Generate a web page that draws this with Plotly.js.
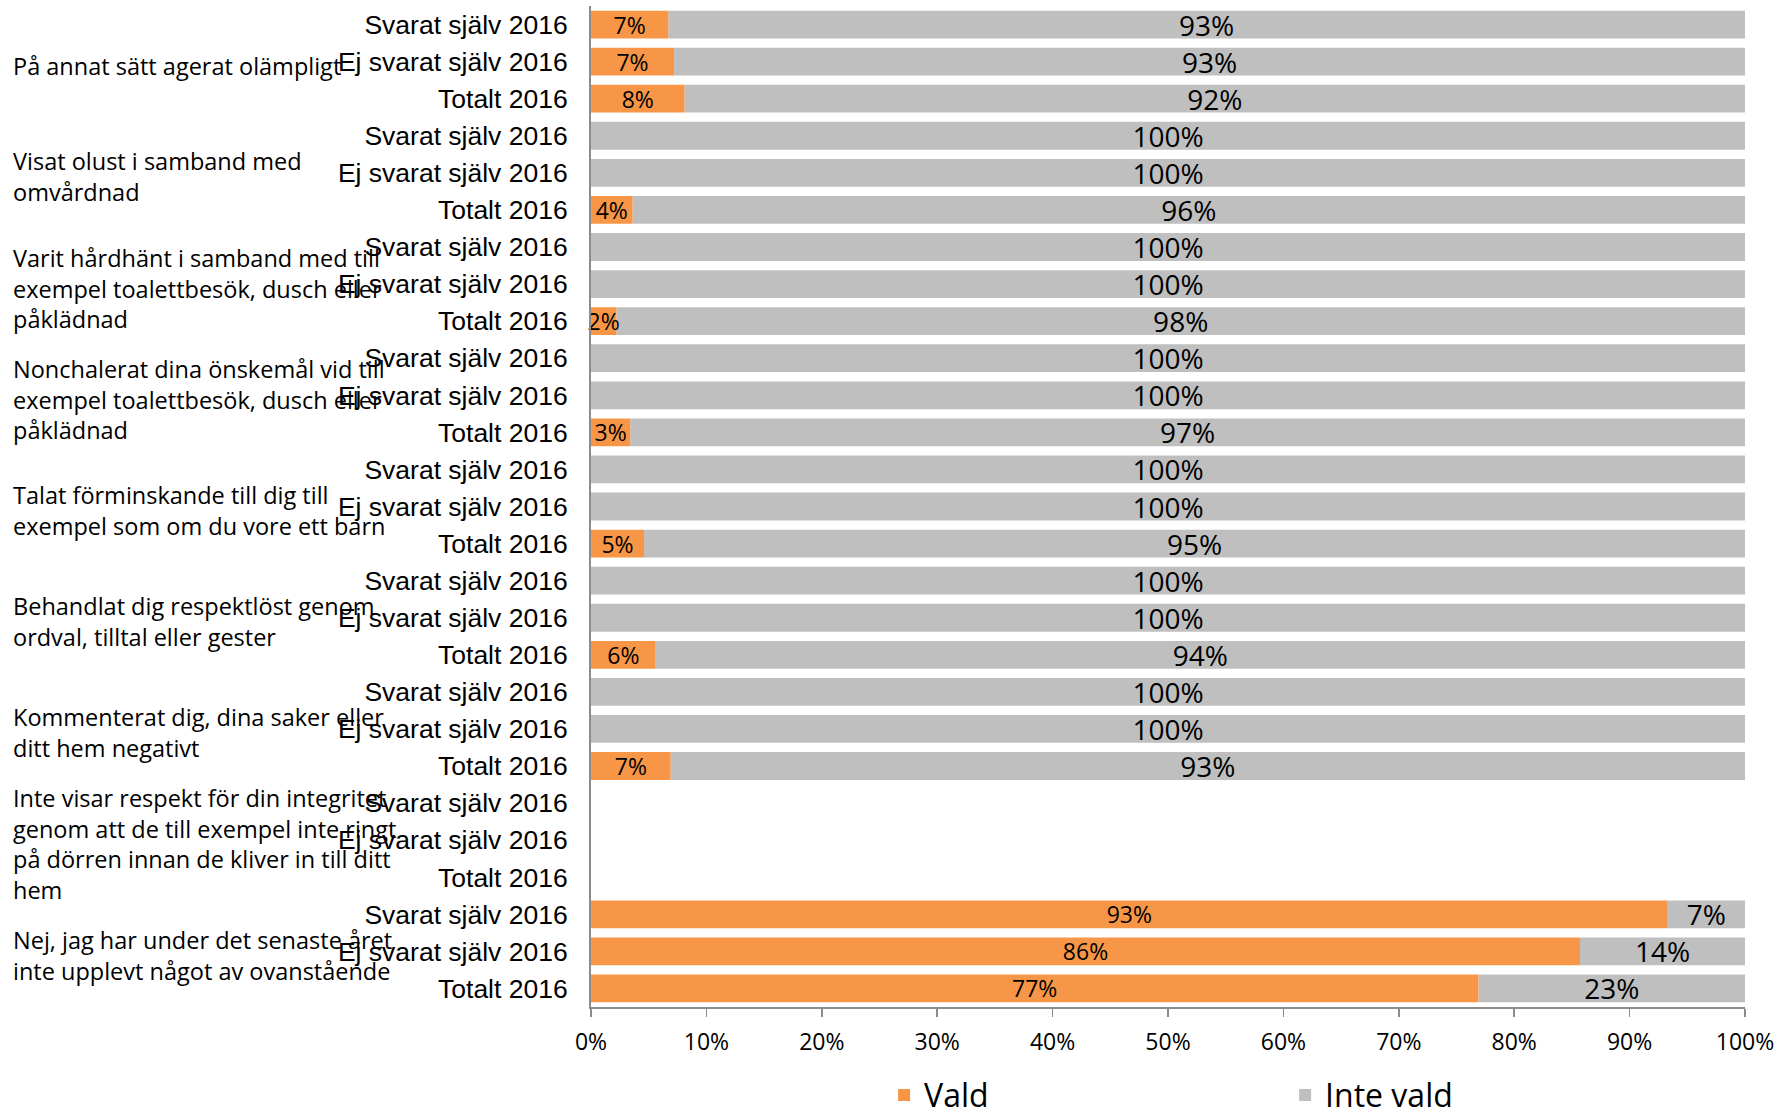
<!DOCTYPE html>
<html>
<head>
<meta charset="utf-8">
<script src="https://cdn.plot.ly/plotly-3.0.1.min.js"></script>
<style>html,body{margin:0;padding:0;background:#fff;}#chart{width:1777px;height:1115px;}</style>
</head>
<body>
<div id="chart"></div>
<script>
const groupLabels = [
  "På annat sätt agerat olämpligt",
  "Visat olust i samband med<br>omvårdnad",
  "Varit hårdhänt i samband med till<br>exempel toalettbesök, dusch eller<br>påklädnad",
  "Nonchalerat dina önskemål vid till<br>exempel toalettbesök, dusch eller<br>påklädnad",
  "Talat förminskande till dig till<br>exempel som om du vore ett barn",
  "Behandlat dig respektlöst genom<br>ordval, tilltal eller gester",
  "Kommenterat dig, dina saker eller<br>ditt hem negativt",
  "Inte visar respekt för din integritet<br>genom att de till exempel inte ringt<br>på dörren innan de kliver in till ditt<br>hem",
  "Nej, jag har under det senaste året<br>inte upplevt något av ovanstående"
];
const subLabels = ["Svarat själv 2016", "Ej svarat själv 2016", "Totalt 2016"];

const vald = [6.7, 7.2, 8.1, 0, 0, 3.6, 0, 0, 2.2, 0, 0, 3.4, 0, 0, 4.6, 0, 0, 5.6, 0, 0, 6.9, null, null, null, 93.3, 85.7, 76.9];
const inteVald = [93.3, 92.8, 91.9, 100, 100, 96.4, 100, 100, 97.8, 100, 100, 96.6, 100, 100, 95.4, 100, 100, 94.4, 100, 100, 93.1, null, null, null, 6.7, 14.3, 23.1];

const xTickVals = [0, 10, 20, 30, 40, 50, 60, 70, 80, 90, 100];
const xTickText = xTickVals.map(v => v + "%");

const rowLabels = [];
groupLabels.forEach(() => subLabels.forEach(s => rowLabels.push(s)));
const rowIdx = rowLabels.map((_, i) => i);
const lbl = arr => arr.map(v => (v ? Math.round(v) + "%" : ""));

// "Inte vald" is stacked after "Vald" via base, drawn first so the orange labels sit on top
const traces = [
  {
    type: "bar", orientation: "h", name: "Inte vald",
    x: inteVald, y: rowIdx, base: vald.map(v => v || 0),
    marker: {color: "#BFBFBF", line: {width: 0}},
    text: lbl(inteVald), textposition: "inside", insidetextanchor: "middle",
    textangle: 0, constraintext: "none", cliponaxis: false,
    textfont: {family: "Open Sans", size: 28, color: "#000"},
    hoverinfo: "skip"
  },
  {
    type: "bar", orientation: "h", name: "Vald",
    x: vald, y: rowIdx,
    marker: {color: "#F79646", line: {width: 0}},
    text: lbl(vald), textposition: "inside", insidetextanchor: "middle",
    textangle: 0, constraintext: "none", cliponaxis: false,
    textfont: {family: "Open Sans", size: 23, color: "#000"},
    hoverinfo: "skip"
  }
];

const plotL = 591, plotR = 1745;
const plotW = plotR - plotL;

const annotations = groupLabels.map((g, i) => ({
  xref: "paper", yref: "y",
  x: (11 - plotL) / plotW, xanchor: "left",
  y: i * 3 + 1, yanchor: "middle", yshift: -4,
  text: g, align: "left", showarrow: false,
  font: {family: "Open Sans", size: 23.5, color: "#000"}
}));

const layout = {
  width: 1777, height: 1115,
  margin: {l: plotL, r: 1777 - plotR, t: 6, b: 108, pad: 0, autoexpand: false},
  paper_bgcolor: "#fff", plot_bgcolor: "#fff",
  barmode: "overlay", bargap: 0.25,
  showlegend: true,
  legend: {
    orientation: "h", x: 0.254, xanchor: "left", y: -0.088, yanchor: "middle",
    entrywidth: 356, font: {family: "Open Sans", size: 32, color: "#000"},
    traceorder: "reversed"
  },
  xaxis: {
    range: [0, 100], tickvals: xTickVals, ticktext: xTickText,
    showgrid: false, zeroline: false,
    showline: true, linecolor: "#8c8c8c", linewidth: 2,
    ticks: "outside", ticklen: 8, tickcolor: "#8c8c8c", tickwidth: 1.5,
    ticklabelstandoff: 5,
    tickfont: {family: "Open Sans", size: 23, color: "#000"},
    fixedrange: true
  },
  yaxis: {
    range: [rowLabels.length - 0.5, -0.5],
    tickvals: rowIdx, ticktext: rowLabels,
    showgrid: false, zeroline: false,
    showline: true, linecolor: "#8c8c8c", linewidth: 2,
    ticks: "", ticklabelstandoff: 16,
    tickfont: {family: "Liberation Sans", size: 26.5, color: "#000"},
    fixedrange: true
  },
  annotations: annotations,
  font: {family: "Open Sans", color: "#000"}
};

Plotly.newPlot("chart", traces, layout, {displayModeBar: false, staticPlot: true});
</script>
</body>
</html>
